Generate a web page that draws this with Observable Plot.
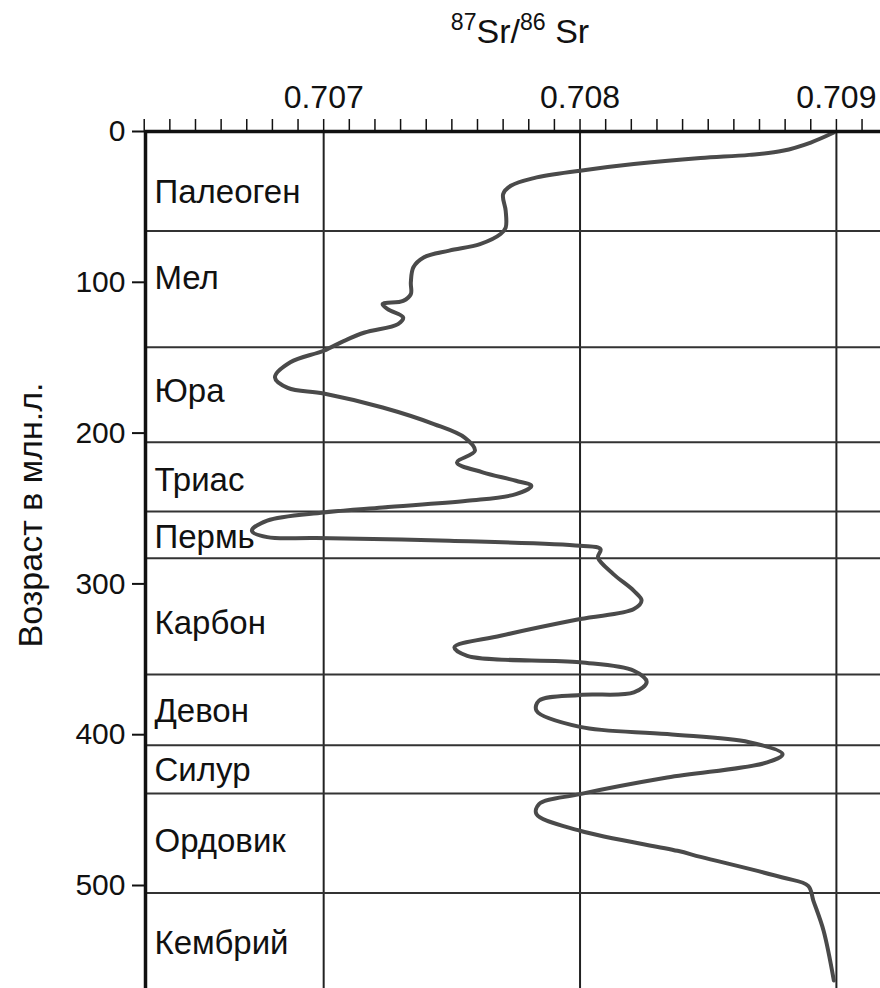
<!DOCTYPE html>
<html>
<head>
<meta charset="utf-8">
<script src="https://cdn.jsdelivr.net/npm/d3@7"></script>
<script src="https://cdn.jsdelivr.net/npm/@observablehq/plot@0.6"></script>
<style>
  body { margin: 0; background: #fff; font-family: "Liberation Sans", Arial, sans-serif; }
  #wrap { position: relative; width: 880px; height: 988px; overflow: hidden; }
  #title { position: absolute; left: 520px; top: 12px; transform: translateX(-50%); font-size: 34px; white-space: nowrap; color: #111; }
  #title sup { font-size: 0.68em; vertical-align: 0.55em; line-height: 0; }
  #ylabel { position: absolute; left: 30px; top: 515px; transform: translate(-50%, -50%) rotate(-90deg); font-size: 34px; white-space: nowrap; color: #111; }
  #chart { position: absolute; left: 0; top: 0; }
</style>
</head>
<body>
<div id="wrap">
  <div id="chart"></div>
  <div id="title"><sup>87</sup>Sr/<sup>86</sup> Sr</div>
  <div id="ylabel">Возраст в млн.л.</div>
</div>
<script>
// ---- data ----
const xTickValues = [0.707, 0.708, 0.709];
const yTickValues = [0, 100, 200, 300, 400, 500];
const periodNames = ["Палеоген", "Мел", "Юра", "Триас", "Пермь", "Карбон", "Девон", "Силур", "Ордовик", "Кембрий"];
const periodLabelAge = [47.7, 104.5, 179.7, 238.3, 275.9, 333.3, 391.9, 430.6, 478.1, 545.5];
const boundaries = [66, 143, 206, 252, 283, 360, 407, 439, 505];
const curveAge = [0.7, 7.3, 12.8, 15.5, 17.6, 21.6, 26, 30.9, 36, 41.5, 52.6, 63.7, 68, 74.7, 79, 83.5, 90, 100, 107.8, 112.3, 114.5, 117.8, 123.3, 127.7, 133.3, 138.8, 145.4, 153, 163, 170, 173.7, 183, 194, 203, 211.7, 219.5, 226, 231.6, 235, 240.5, 244.9, 249.3, 252.6, 258, 264.8, 269, 269.6, 271.4, 274.7, 277, 282.5, 293.5, 304.6, 311, 316.7, 323.3, 334.4, 342, 347.7, 352, 357.6, 365, 372, 373.6, 377.4, 384, 394.8, 399.6, 405, 412.9, 418.4, 428.4, 439.4, 446, 452.7, 463.7, 477, 481, 494.7, 500.2, 510, 530, 563];
const curveRatio = [0.70899, 0.70890, 0.70879, 0.70866, 0.70847, 0.70821, 0.70800, 0.70782, 0.70773, 0.70770, 0.70771, 0.70771, 0.70769, 0.70761, 0.70749, 0.70739, 0.70735, 0.70734, 0.70734, 0.70731, 0.70723, 0.70725, 0.70731, 0.70729, 0.70716, 0.70708, 0.70700, 0.70687, 0.70681, 0.70686, 0.70700, 0.70723, 0.70743, 0.70755, 0.70759, 0.70752, 0.70762, 0.70775, 0.70781, 0.70775, 0.70756, 0.70723, 0.70700, 0.70678, 0.70672, 0.70678, 0.70697, 0.70749, 0.70800, 0.70808, 0.70807, 0.70813, 0.70821, 0.70824, 0.70821, 0.70800, 0.70769, 0.70751, 0.70756, 0.70800, 0.70821, 0.70826, 0.70821, 0.70800, 0.70784, 0.70783, 0.70800, 0.70834, 0.70866, 0.70879, 0.70873, 0.70834, 0.70800, 0.70784, 0.70783, 0.70800, 0.70838, 0.70847, 0.70879, 0.70889, 0.70891, 0.70895, 0.70899];

// ---- build ----
const curve = curveAge.map((a, i) => ({age: a, v: curveRatio[i]}));
const periods = periodNames.map((n, i) => ({name: n, age: periodLabelAge[i]}));
const xMin = 0.706305, xMax = 0.709172, ageMax = 568.3;
const minorTicks = d3.range(7063, 7092).map(d => d / 10000);
const font = "Liberation Sans, Arial, sans-serif";

const chart = Plot.plot({
  width: 880, height: 988,
  marginLeft: 145, marginRight: 0, marginTop: 131, marginBottom: 0,
  x: {domain: [xMin, xMax]},
  y: {domain: [0, ageMax], reverse: true},
  style: {fontFamily: font, background: "transparent", color: "#111", overflow: "visible"},
  marks: [
    Plot.ruleX(xTickValues, {stroke: "#222", strokeWidth: 2}),
    Plot.ruleY(boundaries, {stroke: "#333", strokeWidth: 2}),
    Plot.line(curve, {x: "v", y: "age", curve: "catmull-rom", stroke: "#4a4a4a", strokeWidth: 4}),
    Plot.ruleX([xMin], {stroke: "#111", strokeWidth: 3.5}),
    Plot.ruleY([0], {stroke: "#111", strokeWidth: 3.5}),
    Plot.axisX({anchor: "top", ticks: minorTicks, tickSize: 13, tickFormat: () => "", strokeWidth: 1.5, label: null}),
    Plot.axisX({anchor: "top", ticks: xTickValues, tickSize: 0, tickPadding: 24, tickFormat: d3.format(".3f"), fontSize: 32, label: null}),
    Plot.axisY({anchor: "left", ticks: yTickValues, tickSize: 13, tickPadding: 7, fontSize: 30, strokeWidth: 2, label: null}),
    Plot.text(periods, {x: () => xMin, y: "age", text: "name", textAnchor: "start", lineAnchor: "bottom", dx: 9, fontSize: 33, fill: "#111"})
  ]
});
document.getElementById("chart").appendChild(chart);
</script>
</body>
</html>
